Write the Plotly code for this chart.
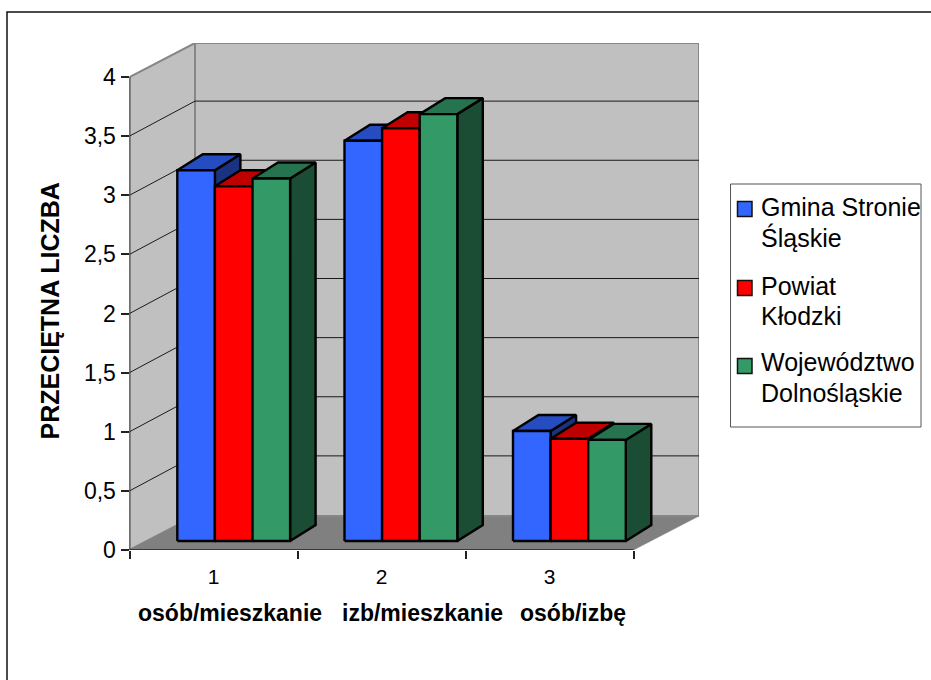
import plotly.graph_objects as go

W, H = 931, 680
categories = ["1", "2", "3"]
category_notes = ["osób/mieszkanie", "izb/mieszkanie", "osób/izbę"]
series_names = ["Gmina Stronie\nŚląskie", "Powiat\nKłodzki", "Województwo\nDolnośląskie"]
gmina = [3.135, 3.385, 0.93]
powiat = [3.00, 3.49, 0.865]
wojewodztwo = [3.065, 3.61, 0.855]
series_values = [gmina, powiat, wojewodztwo]
front_colors = ["#3366FF", "#FF0000", "#339966"]
top_colors = ["#264DBF", "#BF0000", "#267350"]
side_colors = ["#1A3380", "#800000", "#1A4D33"]
y_ticks = [0, 0.5, 1, 1.5, 2, 2.5, 3, 3.5, 4]
y_labels = ["0", "0,5", "1", "1,5", "2", "2,5", "3", "3,5", "4"]

# pixel geometry of the oblique projection
LEFT, RIGHT_FRONT, RIGHT_BACK = 129.5, 633.5, 699
FLOOR_FRONT, FLOOR_BACK = 550, 516
TOP_BACK = 43
PX_X = (RIGHT_FRONT - LEFT) / 3
PX_Y = (FLOOR_FRONT - 77) / 4
DX = (RIGHT_BACK - RIGHT_FRONT) / PX_X
DY = (FLOOR_FRONT - FLOOR_BACK) / PX_Y
GRID_DY = DY + 1 / PX_Y
YMAX = 4 + DY
XMAX = 3 + DX
BAR_W = 37.6 / PX_X
BAR_BASE = 9 / PX_Y        # bar front from front plane of floor, y
BAR_DX = 25.5 / PX_X       # bar depth
BAR_DY = 16 / PX_Y
STARTS = [177.3, 344.5, 513]  # left edge of each bar group, px
GRID = "#1a1a1a"
EDGE = "#868686"
AXIS = "#222222"


def poly(xs, ys, fill, line="#000000", width=2.4):
    return go.Scatter(x=xs, y=ys, mode="lines", fill="toself", fillcolor=fill,
                      line=dict(color=line, width=width), hoverinfo="skip",
                      showlegend=False, cliponaxis=False)


def seg(xs, ys, color, width):
    return go.Scatter(x=xs, y=ys, mode="lines", line=dict(color=color, width=width),
                      hoverinfo="skip", showlegend=False, cliponaxis=False)


fig = go.Figure()
# walls and floor
fig.add_trace(poly([0, DX, DX, 0, 0], [0, DY, YMAX, 4, 0], "#C0C0C0", EDGE, 2))
fig.add_trace(poly([DX, XMAX, XMAX, DX, DX], [DY, DY, YMAX, YMAX, DY], "#C0C0C0", EDGE, 2))
fig.add_trace(poly([0, 3, XMAX, DX, 0], [0, 0, DY, DY, 0], "#808080", "#808080", 0.5))
fig.add_trace(seg([DX, XMAX, XMAX], [DY, DY, YMAX], EDGE, 2))
# grid
for v in y_ticks[1:-1]:
    fig.add_trace(seg([0, DX, XMAX], [v, v + GRID_DY, v + GRID_DY], GRID, 1))

# bars: side, top and front of every series in drawing order
for s, values in enumerate(series_values):
    sx, sy, tx, ty, fx, fy = [], [], [], [], [], []
    for c, v in enumerate(values):
        x0 = (STARTS[c] - LEFT) / PX_X + s * BAR_W
        x1 = x0 + BAR_W
        b, t = BAR_BASE, BAR_BASE + v
        sx += [x1, x1 + BAR_DX, x1 + BAR_DX, x1, x1, None]
        sy += [b, b + BAR_DY, t + BAR_DY, t, b, None]
        tx += [x0, x1, x1 + BAR_DX, x0 + BAR_DX, x0, None]
        ty += [t, t, t + BAR_DY, t + BAR_DY, t, None]
        fx += [x0, x1, x1, x0, x0, None]
        fy += [b, b, t, t, b, None]
    fig.add_trace(poly(sx, sy, side_colors[s]))
    fig.add_trace(poly(tx, ty, top_colors[s]))
    fig.add_trace(poly(fx, fy, front_colors[s]))

# axis lines
fig.add_trace(seg([0, 0], [0, 4], AXIS, 1.5))
fig.add_trace(seg([0, 3], [0, 0], AXIS, 1.5))


def px_x(p):
    return p / W


def px_y(p):
    return 1 - p / H


shapes = [
    dict(type="path", xref="paper", yref="paper",
         path=f"M {px_x(7)} {px_y(680)} L {px_x(7)} {px_y(12)} L {px_x(931)} {px_y(12)}",
         line=dict(color="#111111", width=1.5)),
    dict(type="rect", xref="paper", yref="paper", x0=px_x(730.5), x1=px_x(921),
         y0=px_y(427), y1=px_y(184), line=dict(color="#555555", width=1), fillcolor="white", layer="below"),
]
annotations = []


def text(x, y, s, size, bold=False, anchor="left", angle=0):
    annotations.append(dict(xref="paper", yref="paper", x=px_x(x), y=px_y(y),
                            text=f"<b>{s}</b>" if bold else s, showarrow=False,
                            xanchor=anchor, yanchor="middle", textangle=angle,
                            font=dict(size=size, color="black", family="Liberation Sans")))


# legend
LEGEND_LINES = [(207, 237), (286, 316), (362, 393)]
SWATCHES = [209, 288, 366]
for name, color, lines, sw in zip(series_names, front_colors, LEGEND_LINES, SWATCHES):
    shapes.append(dict(type="rect", xref="paper", yref="paper", x0=px_x(737.5), x1=px_x(752),
                       y0=px_y(sw + 7.5), y1=px_y(sw - 7.5), fillcolor=color,
                       line=dict(color="#111111", width=1.5)))
    for part, y in zip(name.split("\n"), lines):
        text(758.5, y, part, 25)

# texts under the axis and axis title
for note, x in zip(category_notes, [230, 422, 573]):
    text(x, 613, note, 23, bold=True, anchor="center")
text(49.5, 311, "PRZECIĘTNA LICZBA", 25, bold=True, anchor="center", angle=-90)

fig.update_layout(
    width=W, height=H, margin=dict(l=0, r=0, t=0, b=0, autoexpand=False),
    paper_bgcolor="white", plot_bgcolor="rgba(0,0,0,0)", showlegend=False,
    shapes=shapes, annotations=annotations,
    font=dict(family="Liberation Sans", color="black"),
    xaxis=dict(domain=[px_x(LEFT), px_x(RIGHT_BACK)], range=[0, XMAX], showgrid=False, zeroline=False,
               showline=False, tickmode="array", tickvals=[0.5, 1.5, 2.5], ticktext=categories,
               ticks="outside", ticklen=8, tickcolor="rgba(0,0,0,0)", ticklabelstandoff=0,
               tickfont=dict(size=21),
               minor=dict(tickmode="array", tickvals=[0, 1, 2, 3], ticks="outside", ticklen=8,
                          tickcolor=AXIS, tickwidth=1.5, showgrid=False)),
    yaxis=dict(domain=[px_y(FLOOR_FRONT), px_y(TOP_BACK)], range=[0, YMAX], showgrid=False, zeroline=False,
               showline=False, tickmode="array", tickvals=y_ticks, ticktext=y_labels,
               ticks="outside", ticklen=8, tickcolor=AXIS, tickwidth=1.5, tickfont=dict(size=23)),
)
fig.write_html("out.html", config=dict(displayModeBar=False),
               post_script="document.body.style.margin='0';")
